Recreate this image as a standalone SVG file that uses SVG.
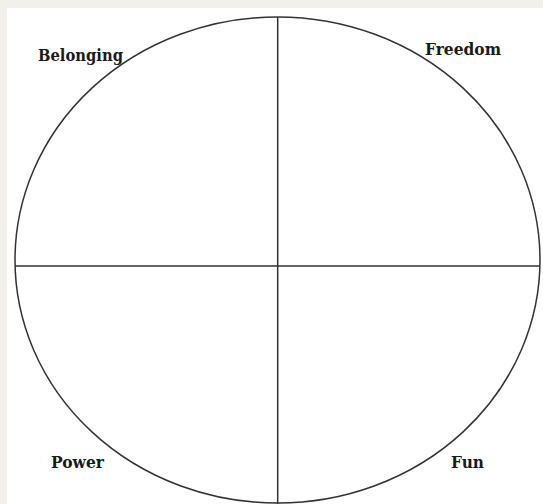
<svg xmlns="http://www.w3.org/2000/svg" width="543" height="504" viewBox="0 0 543 504">
  <style>
    .lbl { font-family: "DejaVu Serif", "Liberation Serif", serif; font-weight: bold; font-size: 16px; fill: #1a1a1a; }
    .ln { stroke: #333; stroke-width: 1.5; fill: none; }
  </style>
  <rect x="0" y="0" width="543" height="504" fill="#f2f0eb"/>
  <rect x="7" y="8" width="536" height="496" fill="#ffffff"/>
  <g id="circle">
    <ellipse class="ln" cx="277.5" cy="260" rx="262.5" ry="243"/>
  </g>
  <g id="connectors">
    <line class="ln" x1="277.7" y1="17" x2="277.7" y2="504"/>
    <line class="ln" x1="15" y1="266" x2="540" y2="266"/>
  </g>
  <g id="belonging"><text class="lbl" x="38" y="60.5" textLength="85" lengthAdjust="spacingAndGlyphs">Belonging</text></g>
  <g id="freedom"><text class="lbl" x="425" y="55" textLength="76" lengthAdjust="spacingAndGlyphs">Freedom</text></g>
  <g id="power"><text class="lbl" x="51" y="468" textLength="53" lengthAdjust="spacingAndGlyphs">Power</text></g>
  <g id="fun"><text class="lbl" x="451" y="468" textLength="33" lengthAdjust="spacingAndGlyphs">Fun</text></g>
</svg>
